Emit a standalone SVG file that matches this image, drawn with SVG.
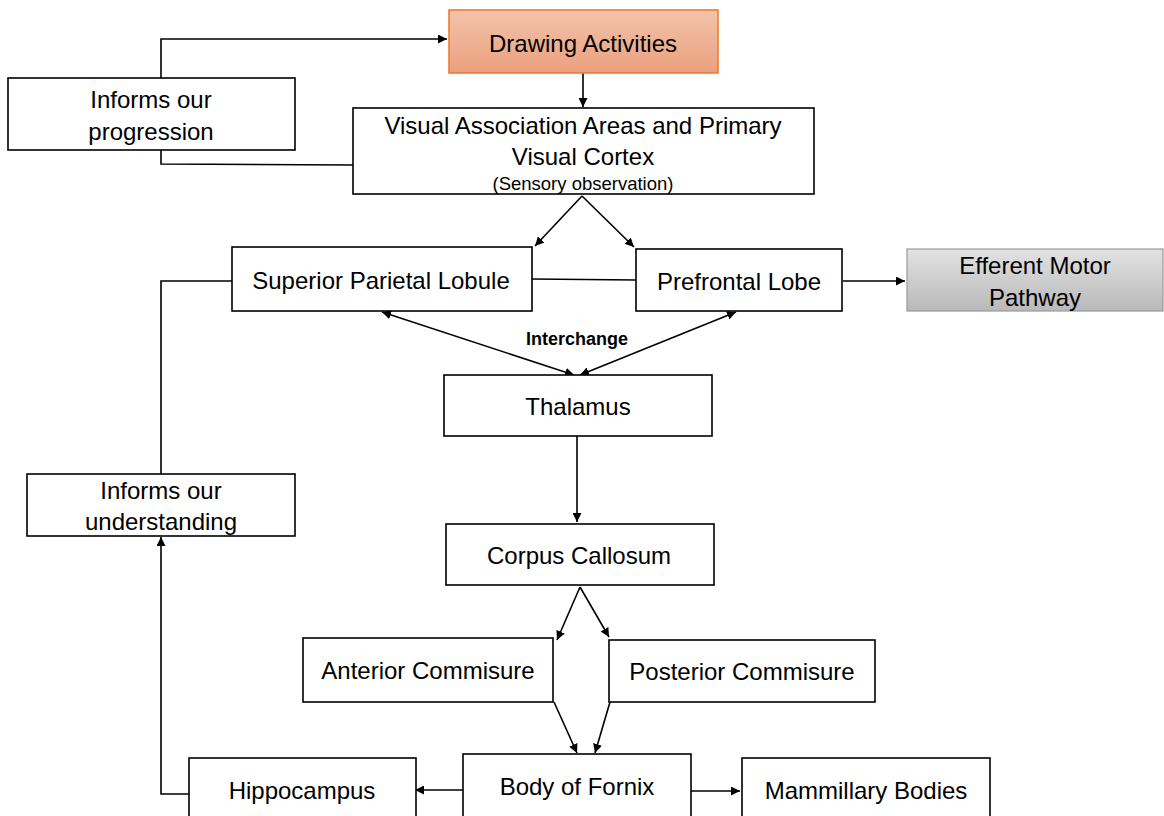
<svg xmlns="http://www.w3.org/2000/svg" width="1164" height="816" viewBox="0 0 1164 816">
<defs>
<linearGradient id="gOrange" x1="0" y1="0" x2="0" y2="1"><stop offset="0" stop-color="#f2c3ab"/><stop offset="1" stop-color="#eba07e"/></linearGradient>
<linearGradient id="gGray" x1="0" y1="0" x2="0" y2="1"><stop offset="0" stop-color="#e2e2e2"/><stop offset="1" stop-color="#b9b9b9"/></linearGradient>
<marker id="ah" viewBox="0 0 10 10" refX="10" refY="5" markerWidth="9" markerHeight="9" markerUnits="userSpaceOnUse" orient="auto-start-reverse"><path d="M0,0 L10,5 L0,10 z" fill="#000"/></marker>
<style>
.box{fill:#fff;stroke:#000;stroke-width:1.6}
.t{font-family:"Liberation Sans",Arial,sans-serif;font-size:24px;fill:#000;text-anchor:middle}
.s{font-family:"Liberation Sans",Arial,sans-serif;font-size:18.5px;fill:#000;text-anchor:middle}
.b{font-family:"Liberation Sans",Arial,sans-serif;font-size:18px;font-weight:bold;fill:#000;text-anchor:middle}
.c{fill:none;stroke:#000;stroke-width:1.6}
</style>
</defs>
<rect width="1164" height="816" fill="#fff"/>
<g id="connectors">
<path class="c" d="M161,78 V39 H447" marker-end="url(#ah)"/>
<path class="c" d="M161,150 V164 L353,165"/>
<path class="c" d="M583,73 V107" marker-end="url(#ah)"/>
<path class="c" d="M582,196 L535,246" marker-end="url(#ah)"/>
<path class="c" d="M582,196 L634,247" marker-end="url(#ah)"/>
<path class="c" d="M532,279 L636,280"/>
<path class="c" d="M843,281 H905" marker-end="url(#ah)"/>
<path class="c" d="M232,281 H161 V474"/>
<path class="c" d="M382,312 L574,375" marker-start="url(#ah)" marker-end="url(#ah)"/>
<path class="c" d="M736,312 L580,375" marker-start="url(#ah)" marker-end="url(#ah)"/>
<path class="c" d="M577,436 V522" marker-end="url(#ah)"/>
<path class="c" d="M580,587 L557,640" marker-end="url(#ah)"/>
<path class="c" d="M580,587 L609,637" marker-end="url(#ah)"/>
<path class="c" d="M554,702 L577,753" marker-end="url(#ah)"/>
<path class="c" d="M610,702 L595,753" marker-end="url(#ah)"/>
<path class="c" d="M463,790 H415" marker-end="url(#ah)"/>
<path class="c" d="M691,791 H740" marker-end="url(#ah)"/>
<path class="c" d="M189,794 H161 V537" marker-end="url(#ah)"/>
<text class="b" x="577" y="345">Interchange</text>
</g>
<g id="drawing">
<rect x="449" y="10" width="269" height="63" fill="url(#gOrange)" stroke="#ed7d31" stroke-width="1.6"/>
<text class="t" x="583" y="52">Drawing Activities</text>
</g>
<g id="progression">
<rect class="box" x="8" y="78" width="287" height="72"/>
<text class="t" x="151" y="108">Informs our</text>
<text class="t" x="151" y="140">progression</text>
</g>
<g id="visual">
<rect class="box" x="353" y="108" width="461" height="86"/>
<text class="t" x="583" y="134">Visual Association Areas and Primary</text>
<text class="t" x="583" y="165">Visual Cortex</text>
<text class="s" x="583" y="190">(Sensory observation)</text>
</g>
<g id="spl">
<rect class="box" x="232" y="247" width="300" height="64"/>
<text class="t" x="381" y="289">Superior Parietal Lobule</text>
</g>
<g id="prefrontal">
<rect class="box" x="636" y="249" width="206" height="62"/>
<text class="t" x="739" y="290">Prefrontal Lobe</text>
</g>
<g id="efferent">
<rect x="907" y="249" width="256" height="62" fill="url(#gGray)" stroke="#999" stroke-width="1.2"/>
<text class="t" x="1035" y="274">Efferent Motor</text>
<text class="t" x="1035" y="306">Pathway</text>
</g>
<g id="thalamus">
<rect class="box" x="444" y="375" width="268" height="61"/>
<text class="t" x="578" y="415">Thalamus</text>
</g>
<g id="understanding">
<rect class="box" x="27" y="474" width="268" height="62"/>
<text class="t" x="161" y="499">Informs our</text>
<text class="t" x="161" y="530">understanding</text>
</g>
<g id="corpus">
<rect class="box" x="446" y="524" width="268" height="61"/>
<text class="t" x="579" y="564">Corpus Callosum</text>
</g>
<g id="anterior">
<rect class="box" x="303" y="638" width="250" height="64"/>
<text class="t" x="428" y="679">Anterior Commisure</text>
</g>
<g id="posterior">
<rect class="box" x="609" y="640" width="266" height="62"/>
<text class="t" x="742" y="680">Posterior Commisure</text>
</g>
<g id="fornix">
<rect class="box" x="463" y="754" width="228" height="70"/>
<text class="t" x="577" y="795">Body of Fornix</text>
</g>
<g id="hippocampus">
<rect class="box" x="189" y="758" width="227" height="66"/>
<text class="t" x="302" y="799">Hippocampus</text>
</g>
<g id="mammillary">
<rect class="box" x="742" y="758" width="248" height="66"/>
<text class="t" x="866" y="799">Mammillary Bodies</text>
</g>
</svg>
